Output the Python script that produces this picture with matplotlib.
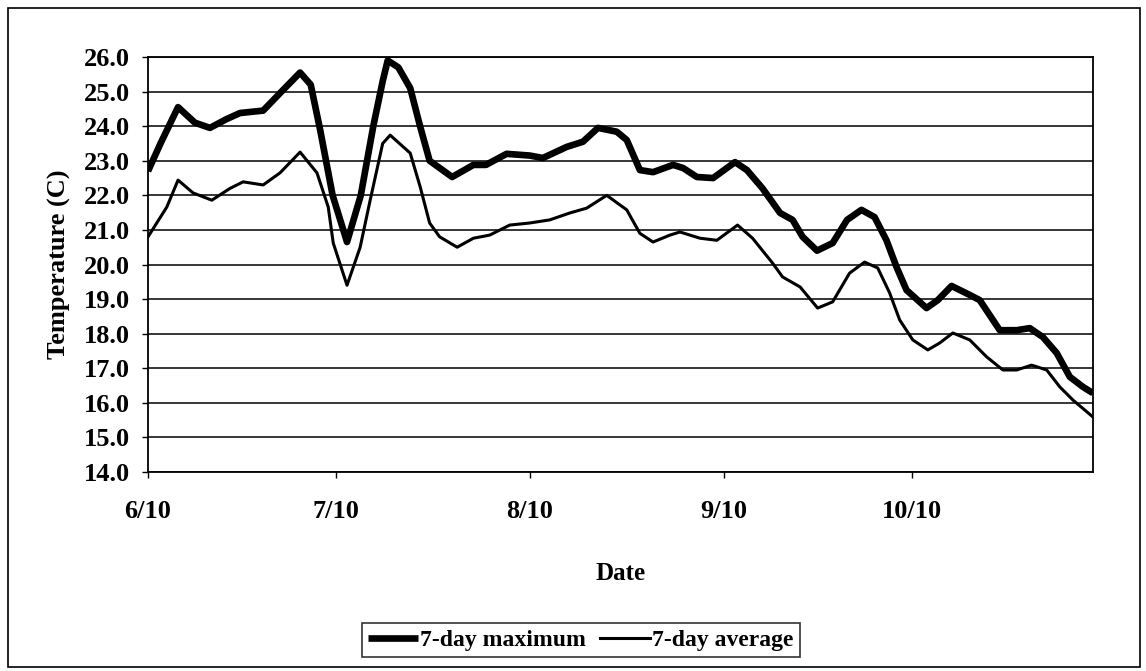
import matplotlib
matplotlib.use('Agg')
import matplotlib.pyplot as plt
from matplotlib.patches import Rectangle

# days after 6/10
max_days = [0, 2, 4.8, 7.5, 9.9, 12.5, 14.7, 18.4, 21.6, 24.3, 26, 27.5, 29.5, 31.8,
            34, 36, 37.5, 38.3, 40, 41.9, 43.5, 45, 48.6, 52, 54, 57.3, 61, 63.1,
            66.9, 69.5, 71.9, 74.9, 76.5, 78.6, 80.7, 83.9, 85.5, 87.7, 90.3, 93.8,
            95.7, 98.2, 101, 103, 104.6, 106.9, 109.4, 111.7, 114, 116.1, 118, 119.6,
            121.2, 124.4, 126.2, 128.4, 131.3, 132.9, 136.1, 138.8, 140.9, 143,
            145.2, 147.3, 149.4, 151]
max_temp = [22.7, 23.5, 24.55, 24.1, 23.95, 24.2, 24.38, 24.45, 25.05, 25.55, 25.2, 23.9, 22.0, 20.65,
            22.0, 24.0, 25.3, 25.9, 25.7, 25.1, 23.98, 23.0, 22.53, 22.88, 22.88, 23.2, 23.15, 23.08,
            23.4, 23.55, 23.95, 23.84, 23.6, 22.73, 22.67, 22.88, 22.79, 22.53, 22.5, 22.96,
            22.73, 22.2, 21.49, 21.29, 20.8, 20.4, 20.62, 21.29, 21.58, 21.37, 20.7, 19.93,
            19.26, 18.74, 18.97, 19.38, 19.12, 18.97, 18.1, 18.1, 18.16, 17.9,
            17.44, 16.75, 16.46, 16.28]

avg_days = [0, 3, 4.8, 7.2, 10.2, 13.1, 15.2, 18.4, 21.1, 24.3, 27, 28.8, 29.6, 31.8,
            33.9, 35.5, 37.5, 38.7, 41.9, 43.5, 45, 46.6, 49.4, 52, 54.6, 57.8, 61,
            64.2, 67.4, 70.1, 73.3, 76.5, 78.6, 80.7, 83.4, 85, 88.2, 90.9, 94.2, 96.6,
            99.8, 101.4, 104.2, 107, 109.4, 112.1, 114.5, 116.6, 118.5, 120.1, 122.2,
            124.6, 126.5, 128.6, 131.3, 134, 136.6, 138.8, 141.2, 143.6, 145.7, 147.8, 151]
avg_temp = [20.8, 21.66, 22.44, 22.07, 21.86, 22.2, 22.39, 22.3, 22.65, 23.25, 22.65, 21.66, 20.62, 19.4,
            20.5, 21.86, 23.5, 23.74, 23.22, 22.24, 21.2, 20.8, 20.5, 20.76, 20.85, 21.14, 21.2,
            21.29, 21.49, 21.63, 22.0, 21.58, 20.9, 20.65, 20.85, 20.94, 20.76, 20.7, 21.14, 20.76,
            20.04, 19.64, 19.35, 18.74, 18.92, 19.75, 20.07, 19.9, 19.18, 18.4, 17.82,
            17.53, 17.73, 18.02, 17.82, 17.33, 16.95, 16.95, 17.09, 16.95, 16.46, 16.08, 15.59]

tick_days = [0, 30, 61, 92, 122]
tick_labels = ['6/10', '7/10', '8/10', '9/10', '10/10']
y_ticks = [14 + i for i in range(13)]

plt.rcParams['font.family'] = ['Liberation Serif', 'DejaVu Serif']
plt.rcParams['font.weight'] = 'bold'

fig = plt.figure(figsize=(11.46, 6.71), dpi=100)
ax = fig.add_axes([148/1146, 1 - 472/671, (1093-148)/1146, (472-57)/671])

ax.plot(max_days, max_temp, color='black', lw=4.8, label='7-day maximum', solid_capstyle='butt')
ax.plot(avg_days, avg_temp, color='black', lw=2.2, label='7-day average')

ax.set_xlim(0, 151)
ax.set_ylim(14, 26)
ax.set_yticks(y_ticks)
ax.set_yticklabels(['%.1f' % v for v in y_ticks])
ax.set_xticks(tick_days)
ax.set_xticklabels(tick_labels)
ax.grid(axis='y', color='black', lw=1.1)
ax.set_axisbelow(True)
ax.tick_params(axis='both', labelsize=19, direction='out', length=4, width=1, color='black')
ax.tick_params(axis='y', pad=9)
ax.tick_params(axis='x', pad=16)
for s in ax.spines.values():
    s.set_linewidth(1.3)

ax.set_xlabel('Date', fontsize=18, fontweight='bold', labelpad=28)
ax.set_ylabel('Temperature (C)', fontsize=19, fontweight='bold', labelpad=9)

leg = fig.legend(loc='center', bbox_to_anchor=(581/1146, 1 - 640/671), ncol=2,
                 fontsize=17, frameon=True, fancybox=False, edgecolor='black',
                 handlelength=2.1, handletextpad=0.1, columnspacing=0.6,
                 borderpad=0.25)
leg.get_frame().set_linewidth(1.2)

fig.patches.append(Rectangle((8/1146, 4/671), 1132/1146, 659/671, transform=fig.transFigure,
                             fill=False, edgecolor='black', lw=1.2))

fig.savefig('out.png', dpi=100)
